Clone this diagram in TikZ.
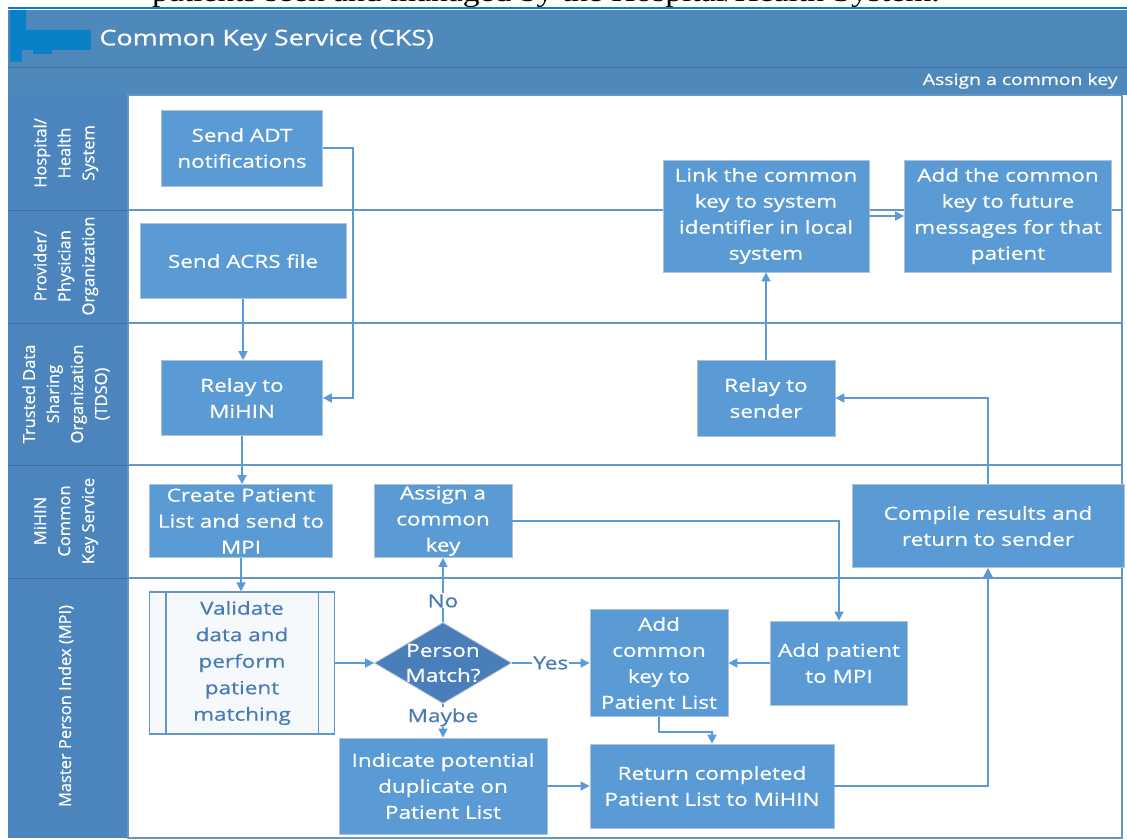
\documentclass[tikz,border=0pt]{standalone}
\usepackage{fontspec}
\setmainfont{Open Sans}[FakeStretch=1.25,FakeBold=0.6]
\newfontfamily\lanefont{Open Sans}[FakeBold=0.6]
\newfontfamily\pagefont{Liberation Serif}[FakeStretch=1.2]
\usetikzlibrary{arrows.meta,calc,shapes.geometric}

\definecolor{headblue}{RGB}{79,136,187}
\definecolor{laneblue}{RGB}{76,133,189}
\definecolor{logoblue}{RGB}{10,128,200}
\definecolor{boxblue}{RGB}{91,155,213}
\definecolor{boxedge}{RGB}{175,195,215}
\definecolor{flowblue}{RGB}{91,155,213}
\definecolor{laneline}{RGB}{100,150,200}
\definecolor{darkline}{RGB}{62,110,160}
\definecolor{decblue}{RGB}{74,126,187}
\definecolor{labelblue}{RGB}{72,122,182}

\tikzset{
  procbox/.style={draw=boxedge,line width=0.8pt,fill=boxblue,text=white,align=center,
    inner sep=1pt,font=\fontsize{18}{26}\selectfont},
  subproc/.style={draw=laneline,line width=1.2pt,fill=white!94!boxblue,text=labelblue,
    align=center,inner sep=1pt,font=\fontsize{18}{26.5}\selectfont},
  decision/.style={diamond,draw=boxedge,line width=0.8pt,fill=decblue,inner sep=0pt},
  flow/.style={draw=flowblue,line width=1.6pt,-{Triangle[length=9pt,width=9pt]}},
  flowlabel/.style={fill=white,text=labelblue,inner sep=1pt,font=\fontsize{18}{22}\selectfont},
  lanelabel/.style={rotate=90,text=white,align=center,font=\lanefont\fontsize{16.5}{24}\selectfont},
}

\begin{document}
\begin{tikzpicture}[x=1pt,y=-1pt]
\clip (0,0) rectangle (1127,840);
\fill[white] (0,0) rectangle (1127,840);
\node[anchor=base west,inner sep=0pt,font=\pagefont\fontsize{28}{30}\selectfont] (pagetext) at (152,2)
  {patients seen and managed by the Hospital/Health System.};

% header
\fill[logoblue] (8,7) rectangle (1127,9.5);
\fill[headblue] (8,10) rectangle (1127,95);
\draw[darkline,line width=1pt] (8,68) -- (1127,68);
\fill[logoblue] (10,10) -- (26,10) -- (26,30) -- (91,30) -- (91,50) -- (52,50) -- (52,54)
  -- (33,54) -- (33,50) -- (22,50) -- (22,62) -- (10,62) -- cycle;
\node[anchor=west,text=white,font=\fontsize{21.5}{24}\selectfont] (title) at (96,40) {Common Key Service (CKS)};
\node[anchor=east,text=white,font=\fontsize{15.5}{18}\selectfont] (phase) at (1121,81) {Assign a common key};

% swimlanes
\fill[laneblue] (8,95) rectangle (128,838);
\draw[laneline,line width=1.2pt] (128,95) rectangle (1122,838);
\foreach \y in {210,323,465,578} {
  \draw[laneline,line width=1.5pt] (128,\y) -- (1122,\y);
  \draw[darkline,line width=1pt] (8,\y) -- (128,\y);
}
\node[lanelabel] (lhosp) at (66,153) {Hospital/\\Health\\System};
\node[lanelabel] (lprov) at (66,266) {Provider/\\Physician\\Organization};
\node[lanelabel] (ltdso) at (66,394) {Trusted Data\\Sharing\\Organization\\(TDSO)};
\node[lanelabel] (lmihin) at (66,521) {MiHIN\\Common\\Key Service};
\node[lanelabel] (lmpi) at (66,706) {Master Person Index (MPI)};

% steps
\node[procbox,minimum width=161,minimum height=76] (adt) at (242,148) {Send ADT\\notifications};
\node[procbox,minimum width=206,minimum height=75] (acrs) at (243,261) {Send ACRS file};
\node[procbox,minimum width=161,minimum height=75] (relay) at (242,398) {Relay to\\MiHIN};
\node[procbox,minimum width=183,minimum height=73] (create) at (241,521) {Create Patient\\List and send to\\MPI};
\node[procbox,minimum width=138,minimum height=73] (assign) at (443,521) {Assign a\\common\\key};
\node[subproc,minimum width=185,minimum height=142] (valid) at (242,663) {Validate\\data and\\perform\\patient\\matching};
\draw[laneline,line width=1.2pt] ([xshift=17pt]valid.north west) -- ([xshift=17pt]valid.south west);
\draw[laneline,line width=1.2pt] ([xshift=-17pt]valid.north east) -- ([xshift=-17pt]valid.south east);
\node[decision,minimum width=137,minimum height=81] (match) at (443,663) {};
\node[text=white,align=center,font=\fontsize{18}{25}\selectfont] (matchtext) at (match) {Person\\Match?};
\node[procbox,minimum width=208,minimum height=96] (indicate) at (443,786) {Indicate potential\\duplicate on\\Patient List};
\node[procbox,minimum width=138,minimum height=107] (addck) at (659,663) {Add\\common\\key to\\Patient List};
\node[procbox,minimum width=137,minimum height=84] (addpat) at (839,663) {Add patient\\to MPI};
\node[procbox,minimum width=244,minimum height=84] (ret) at (712,786) {Return completed\\Patient List to MiHIN};
\node[procbox,minimum width=272,minimum height=83] (compile) at (988,526) {Compile results and\\return to sender};
\node[procbox,minimum width=138,minimum height=76] (rsend) at (766,398) {Relay to\\sender};
\node[procbox,minimum width=206,minimum height=112] (link) at (766,216) {Link the common\\key to system\\identifier in local\\system};
\node[procbox,minimum width=207,minimum height=112] (future) at (1008,216) {Add the common\\key to future\\messages for that\\patient};

% flows
\draw[flow] (adt.east) -- ++(30,0) |- (relay.east);
\draw[flow] (acrs.south) -- (acrs.south |- relay.north);
\draw[flow] (relay.south) -- (relay.south |- create.north);
\draw[flow] (create.south) -- (create.south |- valid.north);
\draw[flow] (valid.east) -- (match.west);
\draw[flow] (match.north) -- node[flowlabel,pos=0.33] {No} (assign.south);
\draw[flow] (match.south) -- node[flowlabel,pos=0.4] {Maybe} (indicate.north);
\draw[flow] (match.east) -- node[flowlabel] {Yes} (addck.west);
\draw[flow] (assign.east) -| (addpat.north);
\draw[flow] (addpat.west) -- (addck.east);
\draw[flow] (addck.south) -- ++(0,15) -| (ret.north);
\draw[flow] (indicate.east) -- (ret.west);
\draw[flow] (ret.east) -| (compile.south);
\draw[flow] (compile.north) |- (rsend.east);
\draw[flow] (rsend.north) -- (link.south);
\draw[flow] (link.east) -- (future.west);
\end{tikzpicture}
\end{document}
